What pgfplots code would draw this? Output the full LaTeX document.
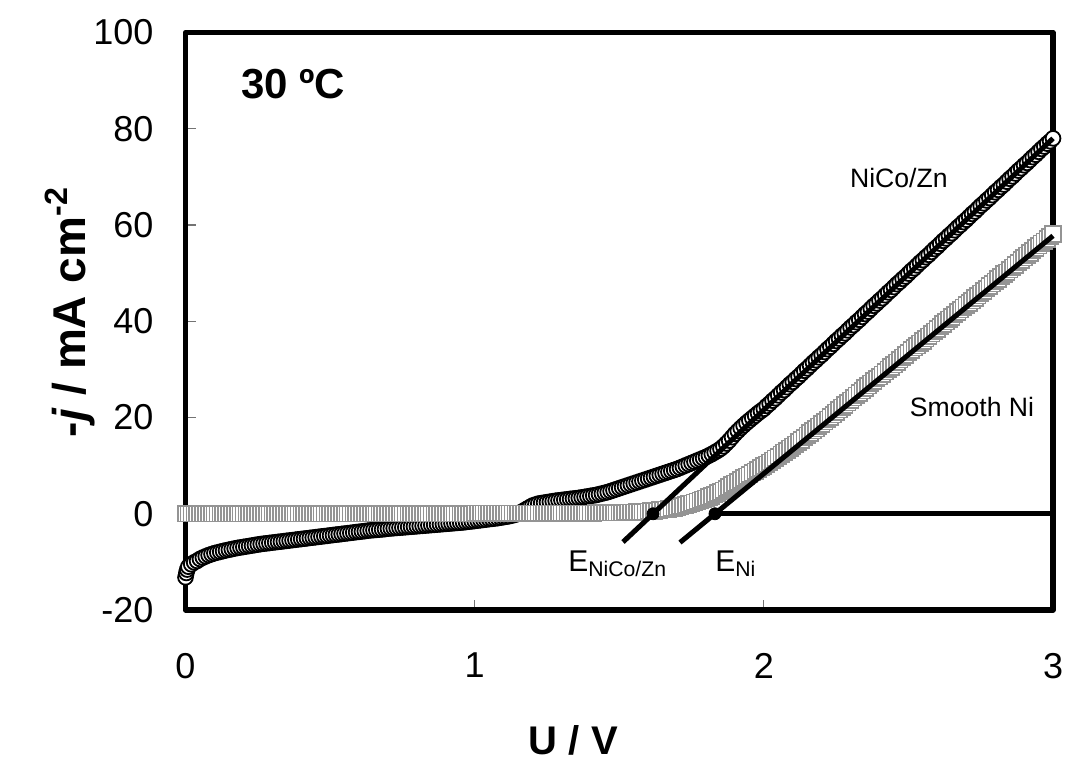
\documentclass[border=0pt]{standalone}
\usepackage{fontspec}
\setmainfont{Liberation Sans}
\usepackage{pgfplots}
\pgfplotsset{compat=1.18}
\begin{document}
\begin{tikzpicture}
\begin{axis}[
  set layers,
  at={(0,0)}, anchor=south west,
  scale only axis, width=433.75pt, height=288.75pt,
  xmin=0, xmax=3, ymin=-20, ymax=100,
  xtick={0,1,2,3}, ytick={-20,0,20,40,60,80,100},
  xtick pos=bottom, ytick pos=left,
  tick align=inside,
  major tick length=5pt,
  tick style={line width=0.6pt, black!55},
  axis line style={line width=2.8pt, line join=round},
  /pgf/number format/assume math mode=true,
  ticklabel style={font=\fontsize{18}{20}\selectfont},
  yticklabel style={xshift=-12.5pt},
  xticklabel style={yshift=-18pt},
  xlabel={\bfseries U / V},
  xlabel style={at={(axis description cs:0.447,0)}, anchor=center, yshift=-65pt, font=\fontsize{20}{24}\selectfont},
  ylabel={\bfseries -\textit{j} / mA cm\textsuperscript{-2}},
  ylabel style={at={(axis description cs:0,0.516)}, anchor=center, yshift=57.75pt, font=\fontsize{23}{27}\selectfont},
  clip=false,
]
% NiCo/Zn
\addplot[only marks, mark=*, mark size=3.7pt, mark options={fill=white, draw=black, line width=0.9pt}] table[row sep=\\] {
x y\\
0.000 -13.2\\ 0.003 -12.3\\ 0.006 -11.6\\ 0.01 -11.0\\ 0.02 -10.5\\ 0.03 -10.1\\ 0.04 -9.8\\ 0.05 -9.4\\ 0.06 -9.1\\ 0.07 -8.85\\ 0.08 -8.6\\ 0.09 -8.4\\
0.10 -8.2\\ 0.11 -8.05\\ 0.12 -7.9\\ 0.13 -7.75\\ 0.14 -7.6\\ 0.15 -7.48\\ 0.16 -7.35\\ 0.17 -7.22\\ 0.18 -7.1\\ 0.19 -7.0\\
0.20 -6.9\\ 0.21 -6.8\\ 0.22 -6.7\\ 0.23 -6.6\\ 0.24 -6.5\\ 0.25 -6.4\\ 0.26 -6.3\\ 0.27 -6.22\\ 0.28 -6.15\\ 0.29 -6.07\\
0.30 -6.0\\ 0.31 -5.92\\ 0.32 -5.85\\ 0.33 -5.78\\ 0.34 -5.7\\ 0.35 -5.62\\ 0.36 -5.55\\ 0.37 -5.48\\ 0.38 -5.4\\ 0.39 -5.32\\
0.40 -5.25\\ 0.41 -5.18\\ 0.42 -5.1\\ 0.43 -5.02\\ 0.44 -4.95\\ 0.45 -4.88\\ 0.46 -4.8\\ 0.47 -4.72\\ 0.48 -4.65\\ 0.49 -4.58\\
0.50 -4.5\\ 0.51 -4.42\\ 0.52 -4.35\\ 0.53 -4.28\\ 0.54 -4.2\\ 0.55 -4.12\\ 0.56 -4.05\\ 0.57 -3.98\\ 0.58 -3.9\\ 0.59 -3.82\\
0.60 -3.75\\ 0.61 -3.68\\ 0.62 -3.6\\ 0.63 -3.52\\ 0.64 -3.45\\ 0.65 -3.4\\ 0.66 -3.35\\ 0.67 -3.3\\ 0.68 -3.25\\ 0.69 -3.18\\
0.70 -3.1\\ 0.71 -3.05\\ 0.72 -3.0\\ 0.73 -2.95\\ 0.74 -2.9\\ 0.75 -2.85\\ 0.76 -2.8\\ 0.77 -2.75\\ 0.78 -2.7\\ 0.79 -2.65\\
0.80 -2.6\\ 0.81 -2.55\\ 0.82 -2.5\\ 0.83 -2.45\\ 0.84 -2.4\\ 0.85 -2.35\\ 0.86 -2.3\\ 0.87 -2.25\\ 0.88 -2.2\\ 0.89 -2.15\\
0.90 -2.1\\ 0.91 -2.05\\ 0.92 -2.0\\ 0.93 -1.95\\ 0.94 -1.9\\ 0.95 -1.85\\ 0.96 -1.8\\ 0.97 -1.72\\ 0.98 -1.65\\ 0.99 -1.58\\
1.00 -1.5\\ 1.01 -1.42\\ 1.02 -1.35\\ 1.03 -1.28\\ 1.04 -1.2\\ 1.05 -1.12\\ 1.06 -1.05\\ 1.07 -0.98\\ 1.08 -0.9\\ 1.09 -0.8\\
1.10 -0.7\\ 1.11 -0.6\\ 1.12 -0.5\\ 1.13 -0.35\\ 1.14 -0.2\\ 1.15 0.05\\ 1.16 0.3\\ 1.17 0.65\\ 1.18 1.0\\ 1.19 1.35\\
1.20 1.7\\ 1.21 1.9\\ 1.22 2.1\\ 1.23 2.2\\ 1.24 2.3\\ 1.25 2.4\\ 1.26 2.5\\ 1.27 2.6\\ 1.28 2.7\\ 1.29 2.78\\
1.30 2.85\\ 1.31 2.92\\ 1.32 3.0\\ 1.33 3.08\\ 1.34 3.15\\ 1.35 3.22\\ 1.36 3.3\\ 1.37 3.4\\ 1.38 3.5\\ 1.39 3.6\\
1.40 3.7\\ 1.41 3.8\\ 1.42 3.9\\ 1.43 4.05\\ 1.44 4.2\\ 1.45 4.35\\ 1.46 4.5\\ 1.47 4.7\\ 1.48 4.9\\ 1.49 5.1\\
1.50 5.3\\ 1.51 5.5\\ 1.52 5.7\\ 1.53 5.9\\ 1.54 6.1\\ 1.55 6.3\\ 1.56 6.5\\ 1.57 6.7\\ 1.58 6.9\\ 1.59 7.1\\
1.60 7.3\\ 1.61 7.5\\ 1.62 7.7\\ 1.63 7.9\\ 1.64 8.1\\ 1.65 8.3\\ 1.66 8.5\\ 1.67 8.7\\ 1.68 8.9\\ 1.69 9.1\\
1.70 9.3\\ 1.71 9.55\\ 1.72 9.8\\ 1.73 10.05\\ 1.74 10.3\\ 1.75 10.55\\ 1.76 10.8\\ 1.77 11.05\\ 1.78 11.3\\ 1.79 11.55\\
1.80 11.8\\ 1.81 12.1\\ 1.82 12.4\\ 1.83 12.75\\ 1.84 13.1\\ 1.85 13.5\\ 1.86 14.0\\ 1.87 14.6\\ 1.88 15.2\\ 1.89 15.9\\
1.90 16.6\\ 1.91 17.2\\ 1.92 17.8\\ 1.93 18.35\\ 1.94 18.9\\ 1.95 19.4\\ 1.96 19.9\\ 1.97 20.4\\ 1.98 20.9\\ 1.99 21.35\\
2.00 21.8\\ 2.01 22.4\\ 2.02 22.9\\ 2.03 23.5\\ 2.04 24.0\\ 2.05 24.6\\ 2.06 25.2\\ 2.07 25.7\\ 2.08 26.3\\ 2.09 26.9\\
2.10 27.4\\ 2.11 28.0\\ 2.12 28.5\\ 2.13 29.1\\ 2.14 29.7\\ 2.15 30.2\\ 2.16 30.8\\ 2.17 31.4\\ 2.18 31.9\\ 2.19 32.5\\
2.20 33.0\\ 2.21 33.6\\ 2.22 34.2\\ 2.23 34.7\\ 2.24 35.3\\ 2.25 35.9\\ 2.26 36.4\\ 2.27 37.0\\ 2.28 37.5\\ 2.29 38.1\\
2.30 38.7\\ 2.31 39.2\\ 2.32 39.8\\ 2.33 40.3\\ 2.34 40.9\\ 2.35 41.5\\ 2.36 42.0\\ 2.37 42.6\\ 2.38 43.2\\ 2.39 43.7\\
2.40 44.3\\ 2.41 44.8\\ 2.42 45.4\\ 2.43 46.0\\ 2.44 46.5\\ 2.45 47.1\\ 2.46 47.7\\ 2.47 48.2\\ 2.48 48.8\\ 2.49 49.3\\
2.50 49.9\\ 2.51 50.5\\ 2.52 51.0\\ 2.53 51.6\\ 2.54 52.2\\ 2.55 52.7\\ 2.56 53.3\\ 2.57 53.8\\ 2.58 54.4\\ 2.59 55.0\\
2.60 55.5\\ 2.61 56.1\\ 2.62 56.7\\ 2.63 57.2\\ 2.64 57.8\\ 2.65 58.3\\ 2.66 58.9\\ 2.67 59.5\\ 2.68 60.0\\ 2.69 60.6\\
2.70 61.1\\ 2.71 61.7\\ 2.72 62.3\\ 2.73 62.8\\ 2.74 63.4\\ 2.75 64.0\\ 2.76 64.5\\ 2.77 65.1\\ 2.78 65.6\\ 2.79 66.2\\
2.80 66.8\\ 2.81 67.3\\ 2.82 67.9\\ 2.83 68.4\\ 2.84 69.0\\ 2.85 69.6\\ 2.86 70.1\\ 2.87 70.7\\ 2.88 71.3\\ 2.89 71.8\\
2.90 72.4\\ 2.91 72.9\\ 2.92 73.5\\ 2.93 74.1\\ 2.94 74.6\\ 2.95 75.2\\ 2.96 75.8\\ 2.97 76.3\\ 2.98 76.9\\ 2.99 77.4\\
3.00 78.0\\
};
% Smooth Ni
\addplot[only marks, mark=square*, mark size=3.9pt, mark options={fill=white, draw=black!42, line width=0.85pt}] table[row sep=\\] {
x y\\
0.00 0.0\\ 0.01 0.0\\ 0.02 0.0\\ 0.03 0.0\\ 0.04 0.0\\ 0.05 0.0\\ 0.06 0.0\\ 0.07 0.0\\ 0.08 0.0\\ 0.09 0.0\\
0.10 0.0\\ 0.11 0.0\\ 0.12 0.0\\ 0.13 0.0\\ 0.14 0.0\\ 0.15 0.0\\ 0.16 0.0\\ 0.17 0.0\\ 0.18 0.0\\ 0.19 0.0\\
0.20 0.0\\ 0.21 0.0\\ 0.22 0.0\\ 0.23 0.0\\ 0.24 0.0\\ 0.25 0.0\\ 0.26 0.0\\ 0.27 0.0\\ 0.28 0.0\\ 0.29 0.0\\
0.30 0.0\\ 0.31 0.0\\ 0.32 0.0\\ 0.33 0.0\\ 0.34 0.0\\ 0.35 0.0\\ 0.36 0.0\\ 0.37 0.0\\ 0.38 0.0\\ 0.39 0.0\\
0.40 0.0\\ 0.41 0.0\\ 0.42 0.0\\ 0.43 0.0\\ 0.44 0.0\\ 0.45 0.0\\ 0.46 0.0\\ 0.47 0.0\\ 0.48 0.0\\ 0.49 0.0\\
0.50 0.0\\ 0.51 0.0\\ 0.52 0.0\\ 0.53 0.0\\ 0.54 0.0\\ 0.55 0.0\\ 0.56 0.0\\ 0.57 0.0\\ 0.58 0.0\\ 0.59 0.0\\
0.60 0.0\\ 0.61 0.0\\ 0.62 0.0\\ 0.63 0.0\\ 0.64 0.0\\ 0.65 0.0\\ 0.66 0.0\\ 0.67 0.0\\ 0.68 0.0\\ 0.69 0.0\\
0.70 0.0\\ 0.71 0.0\\ 0.72 0.0\\ 0.73 0.0\\ 0.74 0.0\\ 0.75 0.0\\ 0.76 0.0\\ 0.77 0.0\\ 0.78 0.0\\ 0.79 0.0\\
0.80 0.0\\ 0.81 0.0\\ 0.82 0.0\\ 0.83 0.0\\ 0.84 0.0\\ 0.85 0.0\\ 0.86 0.0\\ 0.87 0.0\\ 0.88 0.0\\ 0.89 0.0\\
0.90 0.0\\ 0.91 0.0\\ 0.92 0.0\\ 0.93 0.0\\ 0.94 0.0\\ 0.95 0.0\\ 0.96 0.0\\ 0.97 0.0\\ 0.98 0.0\\ 0.99 0.0\\
1.00 0.1\\ 1.01 0.1\\ 1.02 0.1\\ 1.03 0.1\\ 1.04 0.1\\ 1.05 0.1\\ 1.06 0.1\\ 1.07 0.1\\ 1.08 0.1\\ 1.09 0.1\\
1.10 0.1\\ 1.11 0.1\\ 1.12 0.1\\ 1.13 0.1\\ 1.14 0.1\\ 1.15 0.1\\ 1.16 0.1\\ 1.17 0.1\\ 1.18 0.1\\ 1.19 0.1\\
1.20 0.1\\ 1.21 0.1\\ 1.22 0.1\\ 1.23 0.1\\ 1.24 0.1\\ 1.25 0.1\\ 1.26 0.1\\ 1.27 0.1\\ 1.28 0.1\\ 1.29 0.1\\
1.30 0.1\\ 1.31 0.1\\ 1.32 0.1\\ 1.33 0.1\\ 1.34 0.1\\ 1.35 0.1\\ 1.36 0.1\\ 1.37 0.1\\ 1.38 0.1\\ 1.39 0.1\\
1.40 0.1\\ 1.41 0.1\\ 1.42 0.2\\ 1.43 0.2\\ 1.44 0.2\\ 1.45 0.2\\ 1.46 0.2\\ 1.47 0.2\\ 1.48 0.2\\ 1.49 0.2\\
1.50 0.2\\ 1.51 0.2\\ 1.52 0.25\\ 1.53 0.28\\ 1.54 0.3\\ 1.55 0.33\\ 1.56 0.35\\ 1.57 0.38\\ 1.58 0.4\\ 1.59 0.45\\
1.60 0.5\\ 1.61 0.55\\ 1.62 0.6\\ 1.63 0.68\\ 1.64 0.75\\ 1.65 0.82\\ 1.66 0.9\\ 1.67 1.0\\ 1.68 1.1\\ 1.69 1.22\\
1.70 1.35\\ 1.71 1.5\\ 1.72 1.65\\ 1.73 1.82\\ 1.74 2.0\\ 1.75 2.2\\ 1.76 2.4\\ 1.77 2.6\\ 1.78 2.8\\ 1.79 3.0\\
1.80 3.2\\ 1.81 3.45\\ 1.82 3.7\\ 1.83 4.0\\ 1.84 4.3\\ 1.85 4.6\\ 1.86 4.9\\ 1.87 5.25\\ 1.88 5.6\\ 1.89 5.95\\
1.90 6.3\\ 1.91 6.65\\ 1.92 7.0\\ 1.93 7.4\\ 1.94 7.8\\ 1.95 8.15\\ 1.96 8.5\\ 1.97 8.85\\ 1.98 9.2\\ 1.99 9.55\\
2.00 9.9\\ 2.01 10.3\\ 2.02 10.7\\ 2.03 11.1\\ 2.04 11.5\\ 2.05 11.9\\ 2.06 12.35\\ 2.07 12.75\\ 2.08 13.15\\ 2.09 13.6\\
2.10 14.0\\ 2.11 14.45\\ 2.12 14.9\\ 2.13 15.35\\ 2.14 15.85\\ 2.15 16.3\\ 2.16 16.75\\ 2.17 17.25\\ 2.18 17.7\\ 2.19 18.2\\
2.20 18.65\\ 2.21 19.1\\ 2.22 19.6\\ 2.23 20.1\\ 2.24 20.6\\ 2.25 21.1\\ 2.26 21.6\\ 2.27 22.1\\ 2.28 22.6\\ 2.29 23.1\\
2.30 23.6\\ 2.31 24.1\\ 2.32 24.6\\ 2.33 25.1\\ 2.34 25.6\\ 2.35 26.1\\ 2.36 26.6\\ 2.37 27.1\\ 2.38 27.6\\ 2.39 28.1\\
2.40 28.5\\ 2.41 29.0\\ 2.42 29.5\\ 2.43 30.0\\ 2.44 30.5\\ 2.45 31.0\\ 2.46 31.5\\ 2.47 32.0\\ 2.48 32.5\\ 2.49 33.0\\
2.50 33.5\\ 2.51 34.0\\ 2.52 34.5\\ 2.53 34.9\\ 2.54 35.4\\ 2.55 35.9\\ 2.56 36.4\\ 2.57 36.9\\ 2.58 37.4\\ 2.59 37.9\\
2.60 38.4\\ 2.61 38.9\\ 2.62 39.4\\ 2.63 39.9\\ 2.64 40.4\\ 2.65 40.9\\ 2.66 41.4\\ 2.67 41.9\\ 2.68 42.4\\ 2.69 42.9\\
2.70 43.4\\ 2.71 43.8\\ 2.72 44.3\\ 2.73 44.8\\ 2.74 45.3\\ 2.75 45.8\\ 2.76 46.3\\ 2.77 46.8\\ 2.78 47.3\\ 2.79 47.8\\
2.80 48.3\\ 2.81 48.8\\ 2.82 49.3\\ 2.83 49.8\\ 2.84 50.2\\ 2.85 50.7\\ 2.86 51.2\\ 2.87 51.7\\ 2.88 52.2\\ 2.89 52.7\\
2.90 53.2\\ 2.91 53.7\\ 2.92 54.2\\ 2.93 54.7\\ 2.94 55.2\\ 2.95 55.7\\ 2.96 56.2\\ 2.97 56.6\\ 2.98 57.1\\ 2.99 57.6\\
3.00 58.1\\
};
% tangent lines, baseline and intercept points
\begin{pgfonlayer}{axis foreground}
\addplot[black, line width=2.5pt] coordinates {(1.513,-5.87) (3,78.0)};
\addplot[black, line width=2.5pt] coordinates {(1.71,-5.98) (3,57.75)};
\addplot[black, line width=2.5pt] coordinates {(1.831,0) (3,0)};
\addplot[only marks, mark=*, mark size=3pt, black] coordinates {(1.617,0) (1.831,0)};
\end{pgfonlayer}
% labels
\node[font=\fontsize{21}{25}\selectfont\bfseries] at (axis cs:0.372,89.3) {30 ºC};
\node[font=\fontsize{13.3}{16}\selectfont] at (axis cs:2.467,69.8) {NiCo/Zn};
\node[font=\fontsize{13.3}{16}\selectfont] at (axis cs:2.72,22.2) {Smooth Ni};
\node[anchor=base west, inner sep=0pt, font=\fontsize{15}{18}\selectfont] at (axis cs:1.3226,-12.1) {E\raisebox{-2.5pt}{\fontsize{10.6}{12}\selectfont NiCo/Zn}};
\node[anchor=base west, inner sep=0pt, font=\fontsize{15}{18}\selectfont] at (axis cs:1.831,-12.1) {E\raisebox{-2.5pt}{\fontsize{10.6}{12}\selectfont Ni}};
\end{axis}
\pgfresetboundingbox
\path[use as bounding box] (-92.75pt,-75pt) rectangle (441.75pt,305pt);
\end{tikzpicture}
\end{document}
